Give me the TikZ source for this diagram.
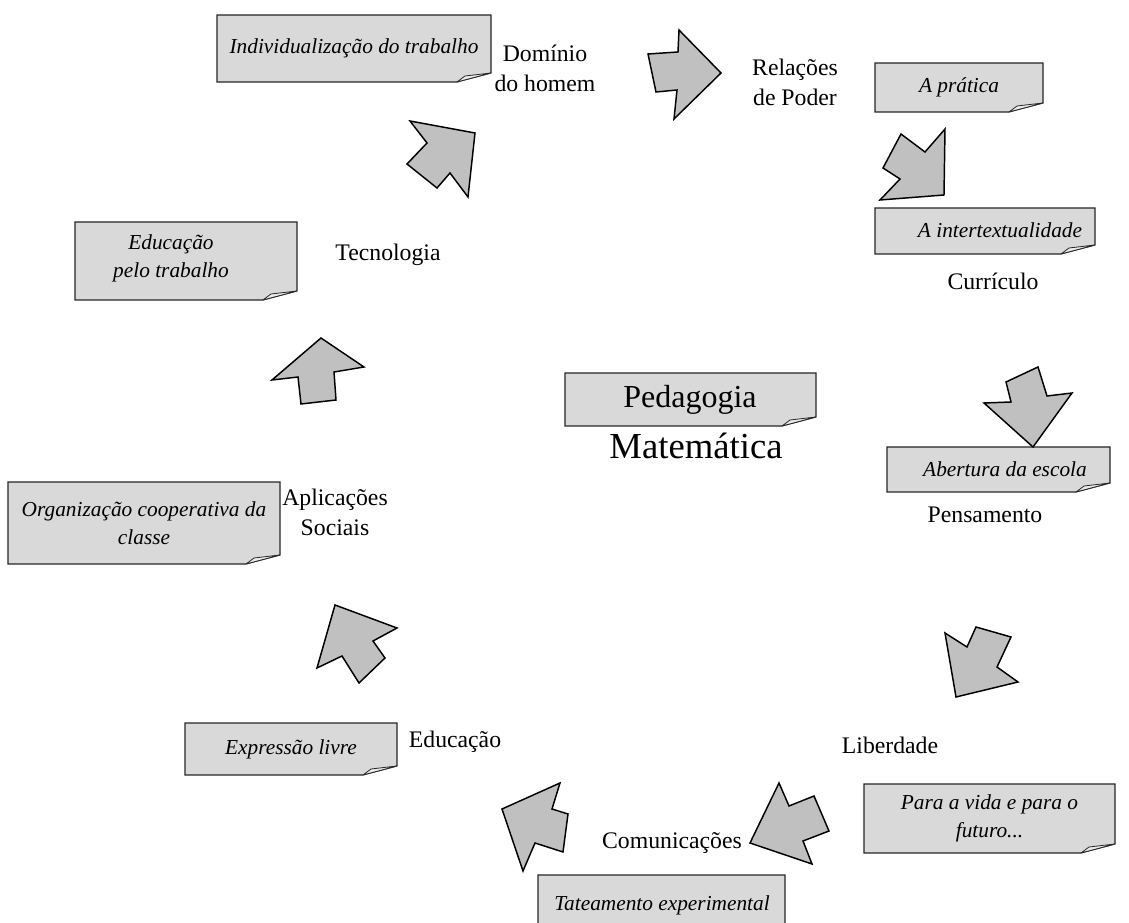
\documentclass[tikz,border=0pt]{standalone}
\usepackage{fontspec}
\setmainfont{Liberation Serif}
\definecolor{notegray}{RGB}{217,217,217}
\definecolor{arrowgray}{RGB}{192,192,192}
\tikzset{
  note/.style={inner sep=0pt, align=center, font=\itshape\fontsize{16}{21}\selectfont},
  lbl/.style={inner sep=0pt, align=center, font=\fontsize{17.8}{22.5}\selectfont},
  notefill/.style={fill=notegray, draw=black!85, line width=0.8pt},
  flap/.style={fill=white!85!gray, draw=black!85, line width=0.6pt, line join=round},
  blockarrow/.style={fill=arrowgray, draw=black, line width=1.1pt, line join=miter},
}
\newcommand\mynote[6]{%
  \draw[notefill] (#2,#3) -- (#4,#3) -- (#4,#5-9) -- (#4-34,#5) -- (#2,#5) -- cycle;
  \draw[flap] (#4-34,#5) -- (#4-26,#5-6) -- (#4,#5-9) -- cycle;
  \node[note] (#1) at ({(#2+#4)/2},{(#3+#5)/2}) {#6};
}
\begin{document}
\begin{tikzpicture}[x=0.75pt,y=-0.75pt]
\useasboundingbox (0,0) rectangle (1129,923);

% notes
\mynote{nIndiv}{217}{15}{491}{82}{Individualização do trabalho}
\mynote{nPratica}{875}{63}{1043}{112}{A prática}
\mynote{nInter}{875}{208}{1095}{254}{}
\node[note] (tInter) at (1000,230) {A intertextualidade};
\mynote{nAbert}{887}{447}{1110}{492}{}
\node[note] (tAbert) at (1005,469) {Abertura da escola};
\mynote{nEduTrab}{75}{222}{297}{300}{}
\node[note] (tEduTrab) at (171,258) {Educação\\pelo trabalho};
\mynote{nOrg}{8}{482}{280}{564}{Organização cooperativa da\\classe}
\mynote{nExpr}{185}{723}{397}{775}{Expressão livre}
\mynote{nPara}{864}{784}{1115}{853}{Para a vida e para o\\futuro...}
\mynote{nTat}{538}{875}{785}{935}{}
\node[note] (tTat) at (662,905) {Tateamento experimental};

% center
\draw[notefill] (565,373) -- (816,373) -- (816,417) -- (782,426) -- (565,426) -- cycle;
\draw[flap] (782,426) -- (790,420) -- (816,417) -- cycle;
\node[inner sep=0pt, font=\fontsize{24}{28}\selectfont] (ped) at (690,400) {Pedagogia};
\node[inner sep=0pt, font=\fontsize{27.5}{32}\selectfont] (mat) at (696,446) {Matemática};

% labels
\node[lbl] (dom) at (545,68) {Domínio\\do homem};
\node[lbl] (rel) at (795,82) {Relações\\de Poder};
\node[lbl] (cur) at (993,281) {Currículo};
\node[lbl] (pen) at (985,515) {Pensamento};
\node[lbl] (tec) at (388,255) {Tecnologia};
\node[lbl] (apl) at (335,512) {Aplicações\\Sociais};
\node[lbl] (edu) at (455,742) {Educação};
\node[lbl] (lib) at (890,745) {Liberdade};
\node[lbl] (com) at (672,843) {Comunicações};

% block arrows
\draw[blockarrow] (410,121) -- (475,133) -- (468,197) -- (450,173) -- (437,188) -- (407,164) -- (427,143) -- cycle;
\draw[blockarrow] (648,54) -- (678,52) -- (679,30) -- (721,73) -- (674,119) -- (677,90) -- (656,92) -- cycle;
\draw[blockarrow] (901,134) -- (925,152) -- (945,129) -- (944,195) -- (880,200) -- (900,179) -- (883,168) -- cycle;
\draw[blockarrow] (1038,367) -- (1047,396) -- (1072,393) -- (1033,447) -- (984,403) -- (1011,402) -- (1006,382) -- cycle;
\draw[blockarrow] (945,633) -- (967,647) -- (976,627) -- (1011,637) -- (997,667) -- (1018,682) -- (956,697) -- cycle;
\draw[blockarrow] (779,783) -- (789,806) -- (814,796) -- (829,831) -- (803,841) -- (812,864) -- (750,843) -- cycle;
\draw[blockarrow] (502,809) -- (560,783) -- (552,809) -- (568,814) -- (563,852) -- (535,843) -- (523,871) -- cycle;
\draw[blockarrow] (335,605) -- (397,628) -- (373,641) -- (385,658) -- (359,683) -- (342,656) -- (317,668) -- cycle;
\draw[blockarrow] (321,338) -- (364,367) -- (334,372) -- (336,400) -- (301,404) -- (298,377) -- (272,380) -- cycle;
\end{tikzpicture}
\end{document}
